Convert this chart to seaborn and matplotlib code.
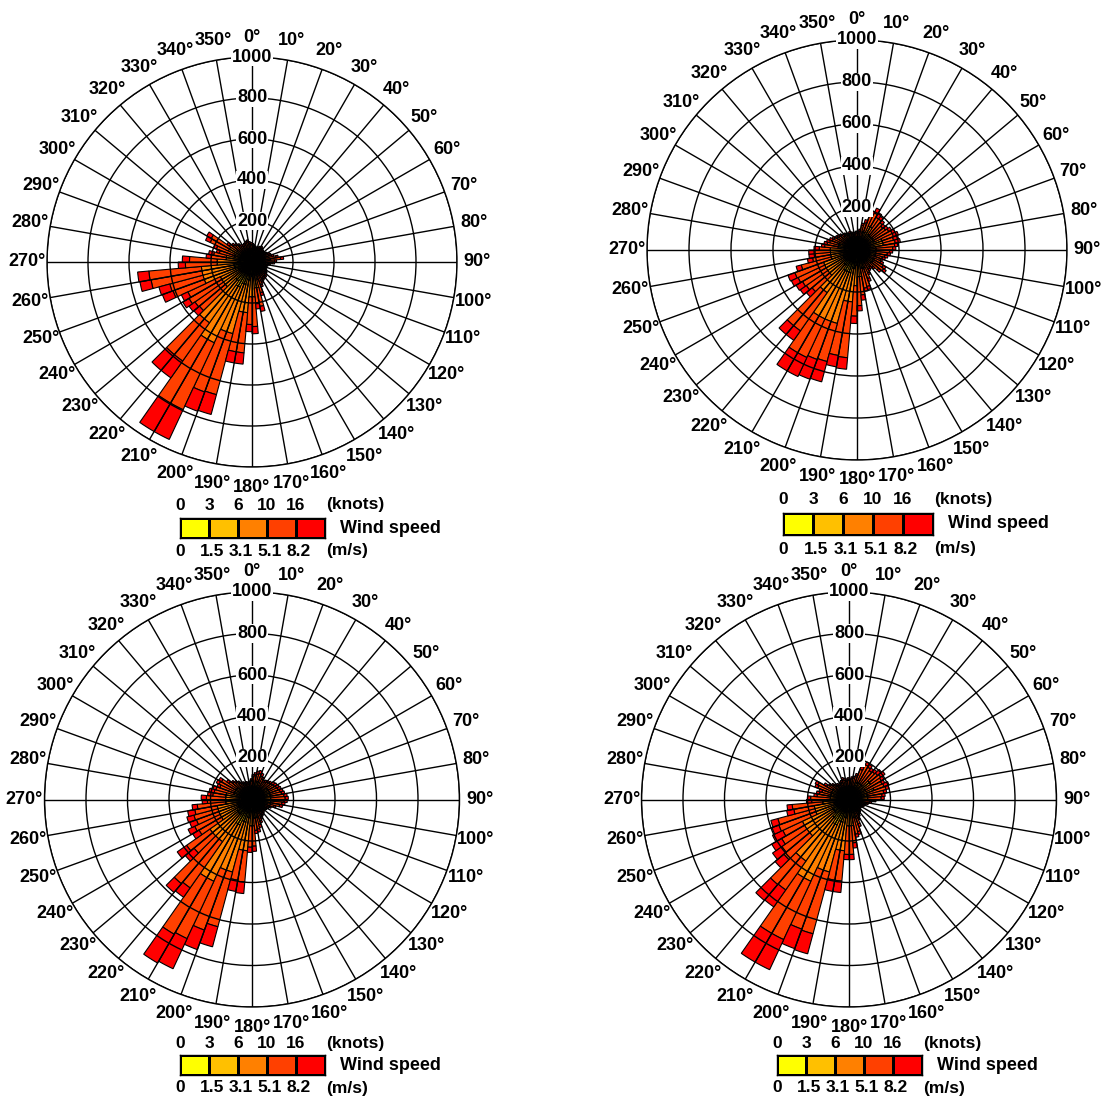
import numpy as np
import matplotlib
matplotlib.use("Agg")
import matplotlib.pyplot as plt
import seaborn as sns
from matplotlib.colors import ListedColormap

sns.set_theme(style="white")
plt.rcParams['font.family'] = ['Liberation Sans', 'DejaVu Sans']
plt.rcParams['font.weight'] = 'bold'
plt.rcParams['text.color'] = 'black'

# ---------------- data ----------------
speed_colors = ["#FFFF00", "#FFC000", "#FF8000", "#FF4000", "#FF0000"]
knots_labels = ["0", "3", "6", "10", "16"]
ms_labels = ["0", "1.5", "3.1", "5.1", "8.2"]
ring_values = [200, 400, 600, 800, 1000]
direction_starts = list(range(0, 360, 5))   # 72 sectors of 5 degrees
direction_labels = [f"{d}°" for d in range(0, 360, 10)]

# top-left rose: counts per speed class (0-1.5, 1.5-3.1, 3.1-5.1, 5.1-8.2, >8.2 m/s)
tl_y = [8,8,8,8,8,8,8,8,8,8, 8,8,8,8,8,8,10,8,8,8, 8,8,8,8,8,8,8,8,8,8,
        8,8,10,12,12,15,15,18,18,22, 22,25,25,22,22,15,15,15,15,18,
        18,18,18,15,15,12,12,10,10,12, 12,10,8,8,8,8,8,8,8,8, 8,8]
tl_oy = [25,25,25,25,25,25,25,25,25,25, 25,25,25,25,25,25,35,25,25,25,
         25,25,25,25,25,25,25,25,25,25, 25,25,35,45,45,55,55,70,70,90,
         90,110,110,90,90,55,55,55,55,70, 70,70,70,55,55,45,45,35,35,45,
         45,35,25,25,25,25,25,25,25,25, 25,25]
tl_o = [30,30,30,30,30,30,30,30,30,30, 30,30,30,30,30,30,45,30,30,30,
        30,30,30,30,30,30,30,30,30,30, 30,30,45,70,70,100,100,160,160,250,
        250,300,300,250,250,100,100,100,100,160, 160,160,160,100,100,70,70,45,45,70,
        70,45,30,30,30,30,30,30,30,30, 30,30]
tl_ro = [17,12,7,2,7,12,17,12,7,2, 7,12,22,27,37,57,50,47,37,17,
         7,2,2,7,12,17,22,27,27,32, 42,57,65,93,78,145,135,197,197,308,
         313,360,360,228,228,165,170,185,175,162, 167,252,257,155,135,73,63,75,95,98,
         103,45,57,47,37,27,22,27,32,37, 27,22]
tl_r = [10,10,10,10,10,10,10,10,10,10, 10,10,10,10,10,10,15,10,10,10,
        10,10,10,10,10,10,10,10,10,10, 10,10,15,25,25,35,35,55,55,100,
        100,160,160,100,100,35,35,35,35,55, 55,55,55,35,35,25,25,15,15,25,
        25,15,10,10,10,10,10,10,10,10, 10,10]

# top-right rose
tr_y = [8,8,8,10,10,12,12,10,10,10, 10,10,10,12,12,12,10,10,10,10,
        10,10,8,10,10,10,10,8,8,8, 8,10,10,10,12,12,15,18,18,22,
        22,22,22,18,18,15,15,15,15,15, 12,12,12,12,12,10,10,10,10,8,
        8,8,8,8,8,8,8,8,8,8, 8,8]
tr_oy = [25,25,25,35,35,45,45,35,35,35, 35,35,35,45,45,45,35,35,35,35,
         35,35,25,35,35,35,35,25,25,25, 25,35,35,35,45,45,55,70,70,90,
         90,90,90,70,70,55,55,55,55,55, 45,45,45,45,45,35,35,35,35,25,
         25,25,25,25,25,25,25,25,25,25, 25,25]
tr_o = [30,30,30,45,45,70,70,45,45,45, 45,45,45,70,70,70,45,45,45,45,
        45,45,30,45,45,45,45,30,30,30, 30,45,45,45,70,70,100,160,160,250,
        250,250,250,160,160,100,100,100,100,100, 70,70,70,70,70,45,45,45,45,30,
        30,30,30,30,30,30,30,30,30,30, 30,30]
tr_ro = [17,27,57,45,95,68,53,90,80,70, 75,85,95,58,53,58,90,80,65,55,
         45,35,57,35,55,65,45,47,37,42, 57,55,90,95,88,138,145,267,262,188,
         193,203,203,222,222,110,125,130,140,145, 148,88,78,78,53,65,55,45,35,57,
         47,42,37,27,27,22,17,22,17,12, 12,17]
tr_r = [10,10,10,15,15,25,25,15,15,15, 15,15,15,25,25,25,15,15,15,15,
        15,15,10,15,15,15,15,10,10,10, 10,15,15,15,25,25,35,55,55,100,
        100,100,100,55,55,35,35,35,35,35, 25,25,25,25,25,15,15,15,15,10,
        10,10,10,10,10,10,10,10,10,10, 10,10]

# bottom-left rose
bl_y = [8,8,10,10,10,8,8,8,8,8, 10,10,10,10,10,10,10,10,10,10,
        10,8,8,8,8,8,8,8,8,8, 8,8,10,10,10,12,12,18,18,22,
        22,25,25,18,18,18,18,15,15,15, 15,15,12,12,12,12,12,10,10,10,
        10,10,8,8,8,8,8,8,8,8, 8,8]
bl_oy = [25,25,35,35,35,25,25,25,25,25, 35,35,35,35,35,35,35,35,35,35,
         35,25,25,25,25,25,25,25,25,25, 25,25,35,35,35,45,45,70,70,90,
         90,110,110,70,70,70,70,55,55,55, 55,55,45,45,45,45,45,35,35,35,
         35,35,25,25,25,25,25,25,25,25, 25,25]
bl_o = [30,30,45,45,45,30,30,30,30,30, 45,45,45,45,45,45,45,45,45,45,
        45,30,30,30,30,30,30,30,30,30, 30,30,45,45,45,70,70,160,160,250,
        250,300,300,160,160,160,160,100,100,100, 100,100,70,70,70,70,70,45,45,45,
        45,45,30,30,30,30,30,30,30,30, 30,30]
bl_ro = [47,57,35,40,30,47,37,42,47,52, 30,35,40,45,50,55,65,70,65,55,
         45,47,27,17,12,7,7,12,17,22, 32,47,35,55,60,98,103,152,147,273,
         308,305,315,272,282,117,137,125,135,115, 120,110,138,88,93,63,58,90,75,85,
         80,45,57,47,37,27,22,17,17,12, 17,27]
bl_r = [10,10,15,15,15,10,10,10,10,10, 15,15,15,15,15,15,15,15,15,15,
        15,10,10,10,10,10,10,10,10,10, 10,10,15,15,15,25,25,55,55,100,
        100,160,160,55,55,55,55,35,35,35, 35,35,25,25,25,25,25,15,15,15,
        15,15,10,10,10,10,10,10,10,10, 10,10]

# bottom-right rose
br_y = [8,8,8,8,10,10,10,10,10,12, 12,10,10,12,10,10,10,10,8,8,
        8,8,8,8,8,8,8,8,8,8, 8,10,10,10,12,12,12,18,18,22,
        22,25,25,22,22,18,18,18,18,15, 15,15,12,12,10,10,10,10,10,10,
        10,8,8,8,8,8,8,8,8,8, 8,8]
br_oy = [25,25,25,25,35,35,35,35,35,45, 45,35,35,45,35,35,35,35,25,25,
         25,25,25,25,25,25,25,25,25,25, 25,35,35,35,45,45,45,70,70,90,
         90,110,110,90,90,70,70,70,70,55, 55,55,45,45,35,35,35,35,35,35,
         35,25,25,25,25,25,25,25,25,25, 25,25]
br_o = [30,30,30,30,45,45,45,45,45,70, 70,45,45,70,45,45,45,45,30,30,
        30,30,30,30,25,25,30,30,30,30, 30,45,45,45,70,70,70,160,160,250,
        250,300,300,250,250,160,160,160,160,100, 100,100,70,70,45,45,45,45,45,45,
        45,30,30,30,30,30,30,30,30,30, 30,30]
br_ro = [27,37,42,57,65,95,90,80,85,53, 60,90,85,53,95,80,70,65,57,37,
         22,12,7,2,2,2,2,7,12,22, 37,35,70,80,83,138,138,147,147,308,
         303,310,310,170,173,162,147,127,104,190, 185,100,148,53,95,65,55,45,70,75,
         35,47,37,27,22,17,22,27,37,32, 27,32]
br_r = [10,10,10,10,15,15,15,15,15,25, 25,15,15,25,15,15,15,15,10,10,
        10,10,10,10,10,10,10,10,10,10, 10,15,15,15,25,25,25,55,55,100,
        100,160,160,100,100,55,55,55,55,35, 35,35,25,25,15,15,15,15,15,15,
        15,10,10,10,10,10,10,10,10,10, 10,10]

# ---------------- layout ----------------
W, H = 1109, 1102
fig = plt.figure(figsize=(W / 100, H / 100), dpi=100)
fig.patch.set_facecolor("white")
FS = 13
FS_LEG = 12.5


def fx(x):
    return x / W


def fy(y):
    return 1 - y / H


def draw_rose(cx, cy, R, segments):
    ax = fig.add_axes([fx(cx - R), fy(cy + R), 2 * R / W, 2 * R / H], projection="polar")
    ax.set_facecolor("white")
    ax.set_theta_zero_location("N")
    ax.set_theta_direction(-1)
    theta = np.deg2rad(direction_starts)
    width = np.deg2rad(5)
    bottom = np.zeros(len(direction_starts))
    for vals, col in zip(segments, speed_colors):
        vals = np.asarray(vals, dtype=float)
        ax.bar(theta, vals, width=width, bottom=bottom, align="edge",
               color=col, edgecolor="black", linewidth=0.8, zorder=1)
        bottom += vals
    ax.set_ylim(0, 1000)
    ax.set_thetagrids(range(0, 360, 10), labels=[])
    ax.set_rgrids(ring_values, labels=[])
    ax.grid(True, color="black", linewidth=1.0)
    ax.set_axisbelow(False)
    ax.spines["polar"].set_color("black")
    ax.spines["polar"].set_linewidth(1.0)
    for r in ring_values:
        ax.text(0, r, str(r), ha="center", va="center", fontsize=FS, fontweight="bold",
                color="black", bbox=dict(fc="white", ec="none", pad=0.6), zorder=5)
    r_lab = 1000 * (R + 20) / R
    for d, lab in zip(range(0, 360, 10), direction_labels):
        ax.text(np.deg2rad(d), r_lab, lab, ha="center", va="center", fontsize=FS,
                fontweight="bold", color="black", clip_on=False, zorder=5)
    return ax


def draw_legend(x0, x1, y0, y1, ky, my):
    lax = fig.add_axes([fx(x0), fy(y1), (x1 - x0) / W, (y1 - y0) / H])
    sns.heatmap(np.array([[0, 1, 2, 3, 4]]), cmap=ListedColormap(speed_colors),
                cbar=False, linewidths=1, linecolor="black", ax=lax,
                xticklabels=False, yticklabels=False, vmin=-0.5, vmax=4.5)
    for sp in lax.spines.values():
        sp.set_visible(True)
        sp.set_color("black")
        sp.set_linewidth(1.0)
    step = (x1 - x0) / 5
    for i, (k, m) in enumerate(zip(knots_labels, ms_labels)):
        xx = x0 + i * step
        fig.text(fx(xx), fy(ky), k, ha="center", va="center", fontsize=FS_LEG,
                 fontweight="bold", color="black")
        fig.text(fx(xx + (3 if i > 0 else 0)), fy(my), m, ha="center", va="center",
                 fontsize=FS_LEG, fontweight="bold", color="black")
    fig.text(fx(x1 + 1), fy(ky), "(knots)", ha="left", va="center", fontsize=FS_LEG,
             fontweight="bold", color="black")
    fig.text(fx(x1 + 1), fy(my), "(m/s)", ha="left", va="center", fontsize=FS_LEG,
             fontweight="bold", color="black")
    fig.text(fx(x1 + 15), fy((y0 + y1) / 2), "Wind speed", ha="left", va="center",
             fontsize=FS, fontweight="bold", color="black")


draw_rose(252, 262, 205, [tl_y, tl_oy, tl_o, tl_ro, tl_r])
draw_rose(857, 250, 210, [tr_y, tr_oy, tr_o, tr_ro, tr_r])
draw_rose(252, 799.5, 207.5, [bl_y, bl_oy, bl_o, bl_ro, bl_r])
draw_rose(849, 799.5, 207.5, [br_y, br_oy, br_o, br_ro, br_r])

draw_legend(180, 325, 518, 538, 505, 551)
draw_legend(783, 933, 513, 535, 500, 549)
draw_legend(180, 325, 1055, 1075, 1043.5, 1088)
draw_legend(777, 922, 1055, 1075, 1043.5, 1088)

fig.savefig("out.png", dpi=100, facecolor="white")
